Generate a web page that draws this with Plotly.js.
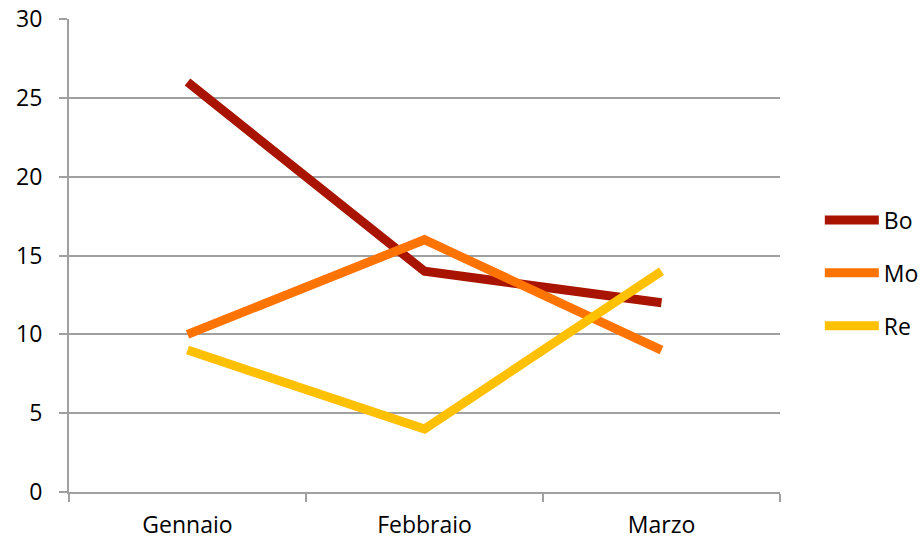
<!DOCTYPE html>
<html>
<head>
<meta charset="utf-8">
<script src="https://cdn.plot.ly/plotly-3.0.1.min.js"></script>
<style>html,body{margin:0;padding:0;background:#fff;}#chart{width:924px;height:541px;}</style>
</head>
<body>
<div id="chart"></div>
<script>
var categories = ["Gennaio", "Febbraio", "Marzo"];
var seriesNames = ["Bo", "Mo", "Re"];
var boValues = [26, 14, 12];
var moValues = [10, 16, 9];
var reValues = [9, 4, 14];
var yTicks = [0, 5, 10, 15, 20, 25, 30];

var colors = ["#a81400", "#ff7300", "#ffc000"];
var allValues = [boValues, moValues, reValues];

var traces = allValues.map(function (vals, i) {
  return {
    type: "scatter",
    mode: "lines",
    x: categories,
    y: vals,
    name: seriesNames[i],
    legendgroup: seriesNames[i],
    line: { color: colors[i], width: 9 },
    hoverinfo: "x+y+name"
  };
});

var font = { family: "Open Sans, Liberation Sans, sans-serif", size: 23, color: "#000" };

var layout = {
  width: 924,
  height: 541,
  margin: { l: 69, r: 144, t: 19, b: 49, pad: 0, autoexpand: false },
  paper_bgcolor: "#fff",
  plot_bgcolor: "#fff",
  font: font,
  showlegend: true,
  legend: {
    x: 1.056, xanchor: "left",
    y: 0.463, yanchor: "middle",
    traceorder: "grouped",
    tracegroupgap: 20,
    itemwidth: 54,
    font: font,
    bgcolor: "rgba(0,0,0,0)"
  },
  xaxis: {
    type: "category",
    range: [-0.5, 2.5],
    tickson: "boundaries",
    ticks: "outside",
    ticklen: 8,
    tickwidth: 2,
    tickcolor: "#a0a0a0",
    ticklabelstandoff: 11,
    showgrid: false,
    showline: true,
    linecolor: "#a0a0a0",
    linewidth: 2,
    zeroline: false,
    tickfont: font,
    fixedrange: true
  },
  yaxis: {
    range: [0, 30],
    tickmode: "array",
    tickvals: yTicks,
    ticktext: yTicks.map(String),
    ticks: "outside",
    ticklen: 8,
    tickwidth: 2,
    tickcolor: "#a0a0a0",
    ticklabelstandoff: 12,
    showgrid: true,
    gridcolor: "#a0a0a0",
    gridwidth: 2,
    showline: true,
    linecolor: "#a0a0a0",
    linewidth: 2,
    zeroline: false,
    tickfont: font,
    fixedrange: true
  }
};

Plotly.newPlot("chart", traces, layout, { displayModeBar: false, staticPlot: true });
</script>
</body>
</html>
